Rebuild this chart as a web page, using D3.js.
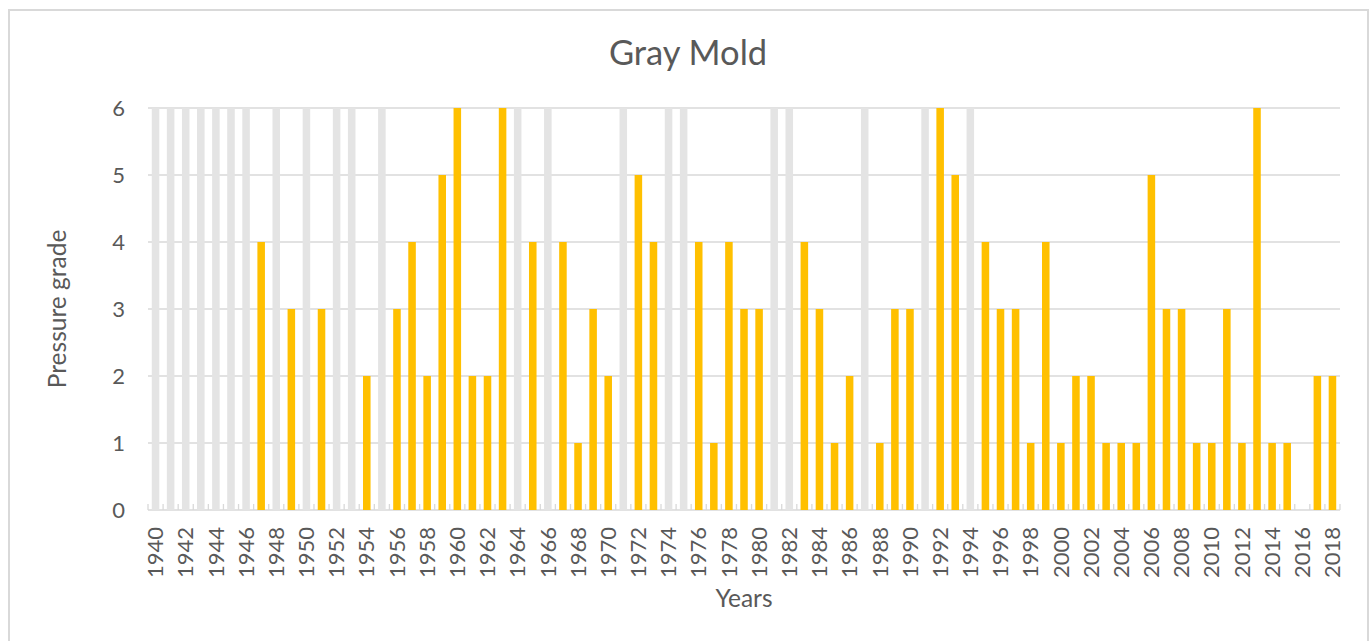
<!DOCTYPE html>
<html>
<head>
  <meta charset="UTF-8">
  <style>
    body {
      margin: 0;
      background: #fff;
      font-family: 'Lato', 'Open Sans', sans-serif;
    }
    .grid line { stroke: #d9d9d9; stroke-width: 1.3; }
    .tick-label { fill: #595959; font-size: 22px; font-family: 'Lato', sans-serif; }
    .axis-title { fill: #595959; font-size: 24.5px; }
    .chart-title { fill: #595959; font-size: 34.5px; }
  </style>
  <script src="https://d3js.org/d3.v7.min.js"></script>
</head>
<body>
<div id="chart"></div>
<script>
// Years on the category axis
const years = [
  1940, 1941, 1942, 1943, 1944, 1945, 1946, 1947, 1948, 1949,
  1950, 1951, 1952, 1953, 1954, 1955, 1956, 1957, 1958, 1959,
  1960, 1961, 1962, 1963, 1964, 1965, 1966, 1967, 1968, 1969,
  1970, 1971, 1972, 1973, 1974, 1975, 1976, 1977, 1978, 1979,
  1980, 1981, 1982, 1983, 1984, 1985, 1986, 1987, 1988, 1989,
  1990, 1991, 1992, 1993, 1994, 1995, 1996, 1997, 1998, 1999,
  2000, 2001, 2002, 2003, 2004, 2005, 2006, 2007, 2008, 2009,
  2010, 2011, 2012, 2013, 2014, 2015, 2016, 2017, 2018
];

// Pressure grade per year (null = no grade)
const grades = [
  null, null, null, null, null, null, null, 4, null, 3,
  null, 3, null, null, 2, null, 3, 4, 2, 5,
  6, 2, 2, 6, null, 4, null, 4, 1, 3,
  2, null, 5, 4, null, null, 4, 1, 4, 3,
  3, null, null, 4, 3, 1, 2, null, 1, 3,
  3, null, 6, 5, null, 4, 3, 3, 1, 4,
  1, 2, 2, 1, 1, 1, 5, 3, 3, 1,
  1, 3, 1, 6, 1, 1, null, 2, 2
];

// Years with no record, shown as full-height light gray bars
const noRecord = [
  6, 6, 6, 6, 6, 6, 6, null, 6, null,
  6, null, 6, 6, null, 6, null, null, null, null,
  null, null, null, null, 6, null, 6, null, null, null,
  null, 6, null, null, 6, 6, null, null, null, null,
  null, 6, 6, null, null, null, null, 6, null, null,
  null, 6, null, null, 6, null, null, null, null, null,
  null, null, null, null, null, null, null, null, null, null,
  null, null, null, null, null, null, null, null, null
];

const yTicks = [0, 1, 2, 3, 4, 5, 6];

const width = 1370, height = 641;
const plot = { left: 148, right: 1340, top: 108, bottom: 510 };

const svg = d3.select('#chart').append('svg')
  .attr('width', width)
  .attr('height', height);

// outer chart border
svg.append('rect')
  .attr('x', 9).attr('y', 10)
  .attr('width', 1359).attr('height', 650)
  .attr('fill', 'none')
  .attr('stroke', '#d9d9d9')
  .attr('stroke-width', 2);

const x = d3.scaleBand()
  .domain(years)
  .range([plot.left, plot.right])
  .paddingInner(0.5)
  .paddingOuter(0.25);

const y = d3.scaleLinear()
  .domain([0, 6])
  .range([plot.bottom, plot.top]);

// gridlines
svg.append('g').attr('class', 'grid')
  .selectAll('line')
  .data(yTicks)
  .join('line')
  .attr('x1', plot.left).attr('x2', plot.right)
  .attr('y1', d => y(d)).attr('y2', d => y(d));

// y labels
svg.append('g')
  .attr('transform', `translate(${plot.left},0)`)
  .call(d3.axisLeft(y).tickValues(yTicks).tickFormat(d3.format('d')).tickSize(0).tickPadding(23))
  .call(g => g.select('.domain').remove())
  .selectAll('text')
  .attr('class', 'tick-label');

const half = x.step() / 2;
const lastYear = years[years.length - 1];

// small inside ticks at category boundaries
svg.append('g')
  .selectAll('line')
  .data(years.map(d => x(d) + x.bandwidth() / 2 - half).concat([x(lastYear) + x.bandwidth() / 2 + half]))
  .join('line')
  .attr('x1', d => d).attr('x2', d => d)
  .attr('y1', y(0))
  .attr('y2', y(0) - 6)
  .attr('stroke', '#d9d9d9')
  .attr('stroke-width', 1.3);

// no-record bars
svg.append('g')
  .selectAll('rect')
  .data(years.map((yr, i) => ({ yr, v: noRecord[i] })).filter(d => d.v != null))
  .join('rect')
  .attr('x', d => x(d.yr))
  .attr('width', x.bandwidth())
  .attr('y', d => y(d.v))
  .attr('height', d => y(0) - y(d.v))
  .attr('fill', '#e4e4e4');

// grade bars
svg.append('g')
  .selectAll('rect')
  .data(years.map((yr, i) => ({ yr, v: grades[i] })).filter(d => d.v != null))
  .join('rect')
  .attr('x', d => x(d.yr))
  .attr('width', x.bandwidth())
  .attr('y', d => y(d.v))
  .attr('height', d => y(0) - y(d.v))
  .attr('fill', '#ffc000');

// x labels every second year
svg.append('g')
  .attr('transform', `translate(0,${plot.bottom})`)
  .call(d3.axisBottom(x).tickValues(years.filter(d => d % 2 === 0)).tickSize(0).tickPadding(0))
  .call(g => g.select('.domain').remove())
  .selectAll('text')
  .attr('class', 'tick-label')
  .attr('transform', 'rotate(-90)')
  .attr('text-anchor', 'end')
  .attr('x', -17)
  .attr('y', 0)
  .attr('dy', '0.35em');

svg.append('text')
  .attr('class', 'chart-title')
  .attr('x', 688).attr('y', 65)
  .attr('text-anchor', 'middle')
  .text('Gray Mold');

svg.append('text')
  .attr('class', 'axis-title')
  .attr('x', (plot.left + plot.right) / 2).attr('y', 607)
  .attr('text-anchor', 'middle')
  .text('Years');

svg.append('text')
  .attr('class', 'axis-title')
  .attr('transform', `translate(66,${(plot.top + plot.bottom) / 2}) rotate(-90)`)
  .attr('text-anchor', 'middle')
  .text('Pressure grade');
</script>
</body>
</html>
